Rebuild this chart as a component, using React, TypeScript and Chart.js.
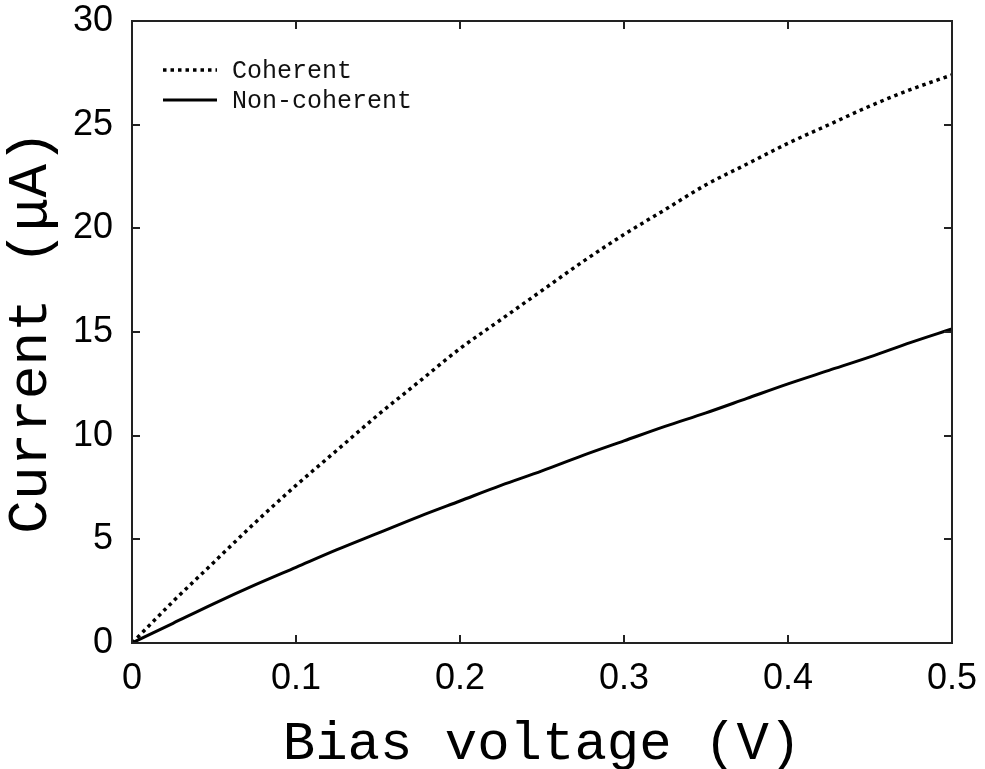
import React, { useEffect, useRef } from "react";
import { Chart, registerables } from "chart.js";

Chart.register(...registerables);

const voltages = [0, 0.025, 0.05, 0.075, 0.1, 0.125, 0.15, 0.175, 0.2, 0.225, 0.25, 0.275, 0.3, 0.325, 0.35, 0.375, 0.4, 0.425, 0.45, 0.475, 0.5];
const coherent = [0, 2.0, 3.9, 5.8, 7.6, 9.3, 11.0, 12.6, 14.2, 15.6, 17.0, 18.4, 19.7, 20.9, 22.1, 23.1, 24.1, 25.0, 25.9, 26.7, 27.4];
const nonCoherent = [0, 0.95, 1.9, 2.8, 3.65, 4.5, 5.3, 6.1, 6.85, 7.6, 8.3, 9.05, 9.75, 10.45, 11.1, 11.8, 12.5, 13.15, 13.8, 14.5, 15.15];
const xTicks = [0, 0.1, 0.2, 0.3, 0.4, 0.5];
const yTicks = [0, 5, 10, 15, 20, 25, 30];
const seriesLabels = ["Coherent", "Non-coherent"];
const xTitle = "Bias voltage (V)";
const yTitle = "Current (\u03BCA)";

const framePlugin = {
  id: "frameTicksLegend",
  afterDatasetsDraw(chart: any) {
    const { ctx, chartArea } = chart;
    const xs = chart.scales.x;
    const ys = chart.scales.y;
    const { left, right, top, bottom } = chartArea;
    ctx.save();
    ctx.strokeStyle = "#222";
    ctx.lineWidth = 2;
    ctx.strokeRect(left, top, right - left, bottom - top);
    const tl = 8;
    ctx.beginPath();
    xTicks.forEach((v) => {
      const px = Math.round(xs.getPixelForValue(v));
      ctx.moveTo(px, bottom);
      ctx.lineTo(px, bottom - tl);
      ctx.moveTo(px, top);
      ctx.lineTo(px, top + tl);
    });
    yTicks.forEach((v) => {
      const py = Math.round(ys.getPixelForValue(v));
      ctx.moveTo(left, py);
      ctx.lineTo(left + tl, py);
      ctx.moveTo(right, py);
      ctx.lineTo(right - tl, py);
    });
    ctx.stroke();

    // legend inside plot
    const rows = [70, 100];
    chart.data.datasets.forEach((ds: any, i: number) => {
      const y = rows[i];
      ctx.beginPath();
      ctx.strokeStyle = ds.borderColor;
      ctx.lineWidth = ds.borderWidth;
      ctx.setLineDash(ds.borderDash || []);
      ctx.moveTo(163, y);
      ctx.lineTo(217, y);
      ctx.stroke();
      ctx.setLineDash([]);
      ctx.fillStyle = "#111";
      ctx.font = "25px 'Liberation Mono'";
      ctx.textBaseline = "middle";
      ctx.textAlign = "left";
      ctx.fillText(ds.label, 232, y + 1);
    });
    ctx.restore();
  },
};

export default function App() {
  const ref = useRef<HTMLCanvasElement | null>(null);
  useEffect(() => {
    if (!ref.current) return;
    const chart = new Chart(ref.current, {
      type: "line",
      data: {
        datasets: [
          {
            label: seriesLabels[0],
            data: voltages.map((v, i) => ({ x: v, y: coherent[i] })),
            borderColor: "#000",
            borderWidth: 3.5,
            borderDash: [3.5, 4],
            pointRadius: 0,
            cubicInterpolationMode: "monotone",
            fill: false,
          },
          {
            label: seriesLabels[1],
            data: voltages.map((v, i) => ({ x: v, y: nonCoherent[i] })),
            borderColor: "#000",
            borderWidth: 3,
            pointRadius: 0,
            cubicInterpolationMode: "monotone",
            fill: false,
          },
        ],
      },
      options: {
        responsive: false,
        animation: false,
        layout: { padding: { top: 21, right: 33, left: 0, bottom: 0 } },
        plugins: { legend: { display: false }, tooltip: { enabled: false } },
        scales: {
          x: {
            type: "linear",
            min: 0,
            max: 0.5,
            afterBuildTicks: (s: any) => {
              s.ticks = xTicks.map((v) => ({ value: v }));
            },
            afterFit: (s: any) => {
              s.height = 126;
              s.paddingLeft = 0;
              s.paddingRight = 0;
            },
            grid: { display: false },
            border: { display: false },
            ticks: {
              font: { family: "'Liberation Sans'", size: 36 },
              color: "#000",
              padding: 6,
              maxRotation: 0,
            },
            title: {
              display: true,
              text: xTitle,
              font: { family: "'Liberation Mono'", size: 54 },
              color: "#000",
              padding: { top: 0, bottom: -8 },
            },
          },
          y: {
            type: "linear",
            min: 0,
            max: 30,
            afterBuildTicks: (s: any) => {
              s.ticks = yTicks.map((v) => ({ value: v }));
            },
            afterFit: (s: any) => {
              s.width = 132;
              s.paddingTop = 0;
              s.paddingBottom = 0;
            },
            grid: { display: false },
            border: { display: false },
            ticks: {
              font: { family: "'Liberation Sans'", size: 36 },
              color: "#000",
              padding: 11,
            },
            title: {
              display: true,
              text: yTitle,
              font: { family: "'Liberation Mono'", size: 56 },
              color: "#000",
              padding: { top: -2, bottom: 0 },
            },
          },
        },
      },
      plugins: [framePlugin],
    } as any);
    return () => chart.destroy();
  }, []);
  return (
    <div style={{ position: "absolute", left: 0, top: 0, width: 985, height: 769, background: "#fff" }}>
      <canvas ref={ref} width={985} height={769} />
    </div>
  );
}
